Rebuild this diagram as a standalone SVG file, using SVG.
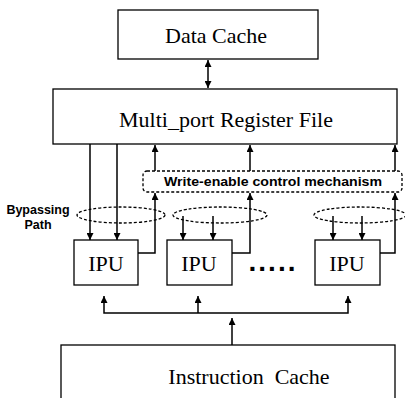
<svg xmlns="http://www.w3.org/2000/svg" width="405" height="398" viewBox="0 0 405 398">
<style>
.box{fill:#fff;stroke:#000;stroke-width:1.3}
.lbl{font-family:"Liberation Serif","Times New Roman",serif;font-size:22px;fill:#000;text-anchor:middle}
.sans{font-family:"Liberation Sans",Arial,sans-serif;font-weight:bold;fill:#000}
.ln{fill:none;stroke:#000;stroke-width:1.5}
.dash{fill:none;stroke:#000;stroke-width:1.3;stroke-dasharray:3 2}
</style>
<defs>
<marker id="ah" viewBox="0 0 10 10" refX="10" refY="5" markerWidth="7" markerHeight="7" markerUnits="userSpaceOnUse" orient="auto-start-reverse">
<path d="M0,0 L10,5 L0,10 z" fill="#000"/>
</marker>
</defs>
<rect width="405" height="398" fill="#fff"/>
<g id="data-cache">
<rect class="box" x="118" y="10" width="200" height="49"/>
<text class="lbl" x="216" y="43">Data Cache</text>
</g>
<g id="register-file">
<rect class="box" x="53" y="89" width="344" height="55"/>
<text class="lbl" x="226" y="127" font-size="23">Multi_port Register File</text>
</g>
<g id="write-enable">
<rect class="dash" x="143" y="171" width="259" height="21" rx="4"/>
<text class="sans" x="273" y="186" font-size="12" text-anchor="middle" textLength="218" lengthAdjust="spacingAndGlyphs">Write-enable control mechanism</text>
</g>
<g id="bypass-label">
<text class="sans" x="38" y="214" font-size="12.5" text-anchor="middle">Bypassing</text>
<text class="sans" x="38" y="229" font-size="12.5" text-anchor="middle">Path</text>
</g>
<g id="bypass-paths">
<ellipse class="dash" cx="121" cy="215" rx="44" ry="8"/>
<ellipse class="dash" cx="220" cy="215" rx="47" ry="8"/>
<ellipse class="dash" cx="360" cy="215" rx="46" ry="8"/>
</g>
<g id="ipu1">
<rect class="box" x="74" y="240" width="64" height="45"/>
<text class="lbl" x="106" y="271">IPU</text>
</g>
<g id="ipu2">
<rect class="box" x="167" y="240" width="65" height="45"/>
<text class="lbl" x="199" y="271">IPU</text>
</g>
<g id="ipu3">
<rect class="box" x="315" y="240" width="65" height="45"/>
<text class="lbl" x="347" y="271">IPU</text>
</g>
<g id="ellipsis">
<text class="sans" x="273" y="271" font-size="28" text-anchor="middle" letter-spacing="2">.....</text>
</g>
<g id="instruction-cache">
<rect class="box" x="61" y="345" width="334" height="60"/>
<text class="lbl" x="249" y="384" xml:space="preserve">Instruction  Cache</text>
</g>
<g id="connectors">
<line class="ln" x1="208" y1="60" x2="208" y2="88" marker-start="url(#ah)" marker-end="url(#ah)"/>
<line class="ln" x1="90" y1="144" x2="90" y2="240" marker-end="url(#ah)"/>
<line class="ln" x1="117" y1="144" x2="117" y2="240" marker-end="url(#ah)"/>
<line class="ln" x1="155" y1="171" x2="155" y2="145" marker-end="url(#ah)"/>
<line class="ln" x1="250" y1="171" x2="250" y2="145" marker-end="url(#ah)"/>
<line class="ln" x1="395" y1="171" x2="395" y2="145" marker-end="url(#ah)"/>
<polyline class="ln" points="138,253 155,253 155,193" marker-end="url(#ah)"/>
<polyline class="ln" points="232,253 250,253 250,193" marker-end="url(#ah)"/>
<polyline class="ln" points="380,253 395,253 395,193" marker-end="url(#ah)"/>
<line class="ln" x1="183" y1="216" x2="183" y2="240" marker-end="url(#ah)"/>
<line class="ln" x1="213" y1="216" x2="213" y2="240" marker-end="url(#ah)"/>
<line class="ln" x1="333" y1="216" x2="333" y2="240" marker-end="url(#ah)"/>
<line class="ln" x1="362" y1="216" x2="362" y2="240" marker-end="url(#ah)"/>
<polyline class="ln" points="104,296 104,313 348,313 348,296" marker-start="url(#ah)" marker-end="url(#ah)"/>
<line class="ln" x1="198" y1="313" x2="198" y2="296" marker-end="url(#ah)"/>
<line class="ln" x1="232" y1="345" x2="232" y2="318" marker-end="url(#ah)"/>
</g>
</svg>
